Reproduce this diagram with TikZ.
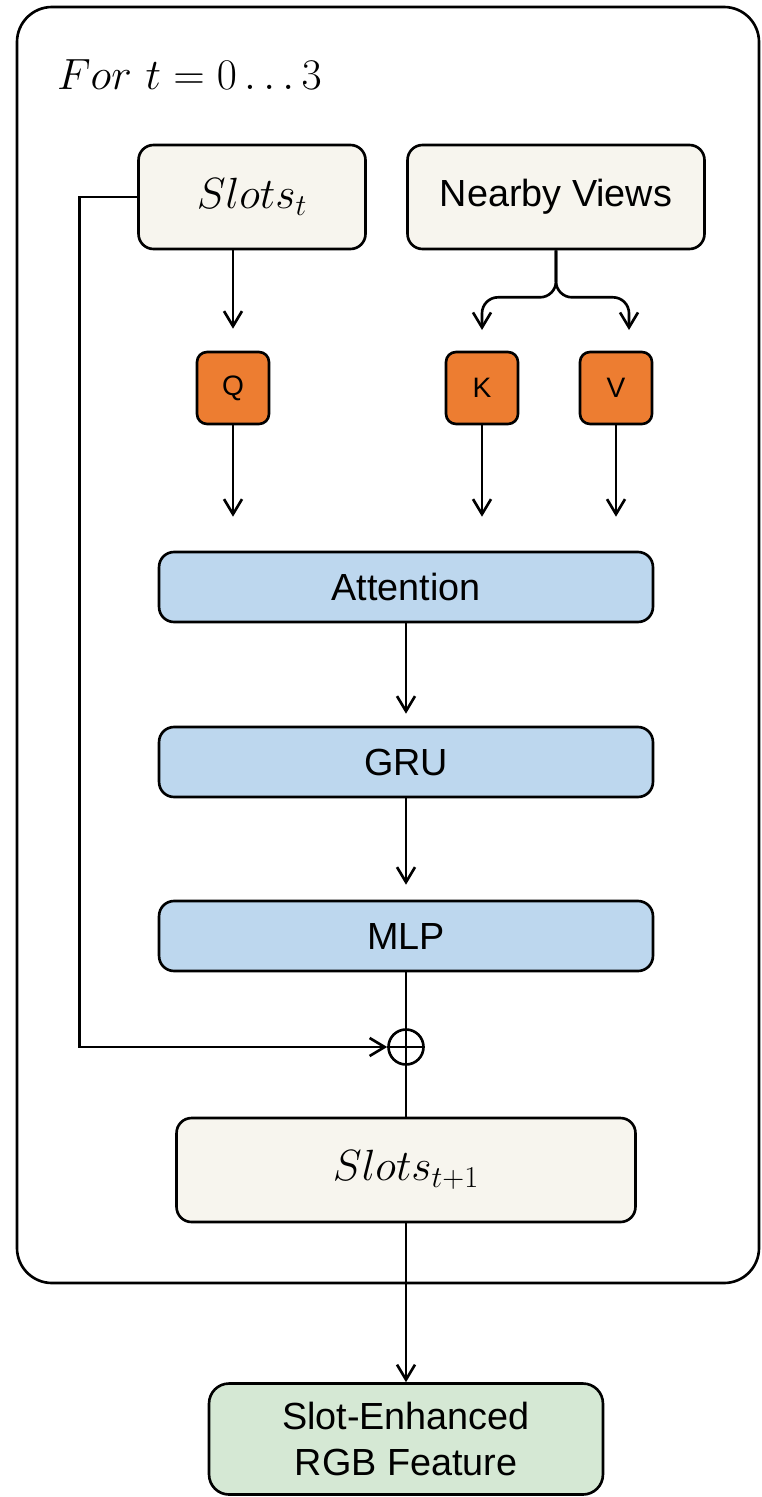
\documentclass[tikz,border=0pt]{standalone}
\usepackage{fontspec}
\setsansfont{Liberation Sans}
\usepackage{tikz}
\usetikzlibrary{arrows.meta}

\definecolor{cream}{HTML}{F7F5EE}
\definecolor{qkvorange}{HTML}{ED7D31}
\definecolor{blockblue}{HTML}{BDD7EE}
\definecolor{outgreen}{HTML}{D5E8D4}

\begin{document}
\begin{tikzpicture}[x=0.02cm, y=-0.02cm, line width=1.5pt,
    >={Straight Barb[length=3mm, width=3.6mm, line width=1.5pt]},
    inbox/.style={draw, rounded corners=0.3cm, fill=cream, minimum height=2.08cm},
    qkv/.style={draw, rounded corners=0.2cm, fill=qkvorange, minimum size=1.44cm,
      font=\sffamily\fontsize{16}{18}\selectfont},
    block/.style={draw, rounded corners=0.3cm, fill=blockblue, minimum width=9.88cm,
      minimum height=1.4cm, font=\sffamily\fontsize{21.5}{26}\selectfont}]
    \useasboundingbox (0,0) rectangle (761,1497);
    \draw[rounded corners=0.7cm] (17,7) rectangle (759,1283);
    \node[anchor=west, font=\fontsize{26}{30}\selectfont] (loop) at (50,75) {$For\ t = 0 \ldots 3$};

    \node[inbox, minimum width=4.54cm, font=\fontsize{27}{30}\selectfont] (slots) at (252,197) {$Slots_t$};
    \node[inbox, minimum width=5.94cm, font=\sffamily\fontsize{21.5}{26}\selectfont] (views) at (556,197) {Nearby Views};

    \node[qkv] (q) at (233,388) {Q};
    \node[qkv] (k) at (482,388) {K};
    \node[qkv] (v) at (616,388) {V};

    \node[block] (att) at (406,587) {Attention};
    \node[block] (gru) at (406,762) {GRU};
    \node[block] (mlp) at (406,936) {MLP};

    \node[draw, circle, minimum size=0.7cm, inner sep=0pt] (plus) at (406,1047) {};
    \node[inbox, minimum width=9.18cm, font=\fontsize{27}{30}\selectfont] (next) at (406,1170) {$Slots_{t+1}$};
    \node[draw, rounded corners=0.4cm, fill=outgreen, minimum width=7.88cm, minimum height=2.22cm,
      align=center, font=\sffamily\fontsize{21.5}{26}\selectfont] (out) at (406,1439) {Slot-Enhanced\\RGB Feature};

    % key / value split
    \coordinate (ktip) at (482,330);
    \coordinate (vtip) at (629,330);
    \draw[->, rounded corners=0.32cm] (views.south) -- ++(0,47) -| (ktip);
    \draw[->, rounded corners=0.32cm] (views.south) -- ++(0,47) -| (vtip);

    \draw[->, shorten >=0.44cm] (q.north |- slots.south) -- (q.north);
    \draw[->, shorten >=0.68cm] (q) -- (q |- att.north);
    \draw[->, shorten >=0.68cm] (k) -- (k |- att.north);
    \draw[->, shorten >=0.68cm] (v) -- (v |- att.north);
    \draw[->, shorten >=0.24cm] (att) -- (gru);
    \draw[->, shorten >=0.30cm] (gru) -- (mlp);

    % residual
    \draw (mlp.south) -- (next.north);
    \draw (plus.west) -- (plus.east);
    \draw[->] (slots.west) -- ++(-58,0) |- (plus.west);
    \draw[->] (next) -- (out);
\end{tikzpicture}
\end{document}
